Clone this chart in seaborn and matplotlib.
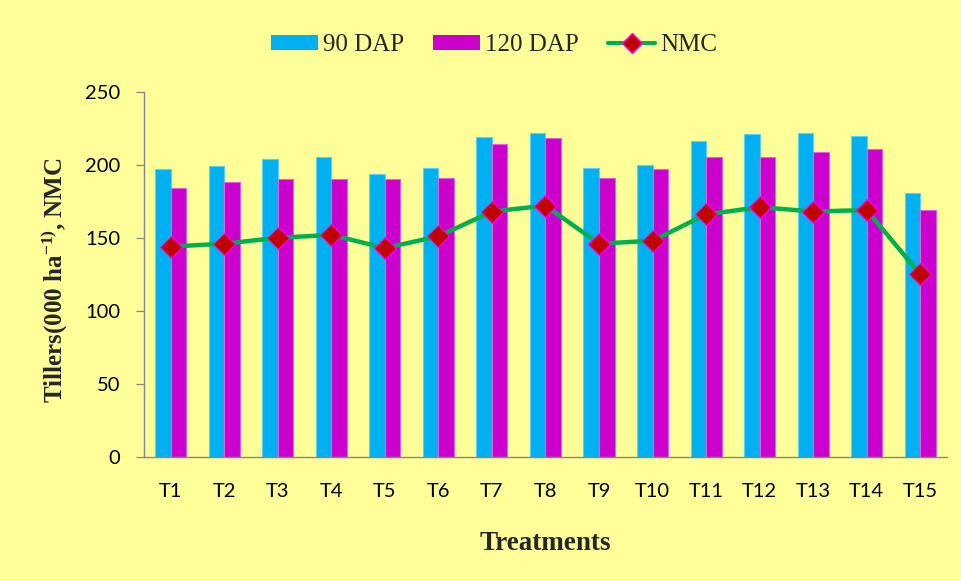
import matplotlib
matplotlib.use("Agg")
import matplotlib.pyplot as plt
from matplotlib.patches import Patch
from matplotlib.lines import Line2D
import seaborn as sns
import pandas as pd

# Treatments and measured values
treatments = [f"T{i}" for i in range(1, 16)]
dap90 = [197, 199, 204, 205, 194, 198, 219, 222, 198, 200, 216, 221, 222, 220, 181]
dap120 = [184, 188, 190, 190, 190, 191, 214, 218, 191, 197, 205, 205, 209, 211, 169]
nmc = [144, 146, 150, 152, 143, 151, 168, 172, 146, 148, 166, 171, 168, 169, 125]
yticks = [0, 50, 100, 150, 200, 250]

BG = "#FFFF99"
BLUE = "#00B0F0"
MAGENTA = "#CC00CC"
GREEN = "#00B050"
RED = "#C00000"
AXIS_GRAY = "#868686"
SERIF = ["Liberation Serif", "DejaVu Sans"]

sns.set_theme(style="white")
plt.rcParams["font.family"] = SERIF
plt.rcParams["mathtext.fontset"] = "custom"
plt.rcParams["mathtext.rm"] = "Liberation Serif:bold"
plt.rcParams["mathtext.default"] = "rm"

long = pd.DataFrame({
    "Treatment": treatments * 2,
    "Value": dap90 + dap120,
    "Stage": ["90 DAP"] * len(treatments) + ["120 DAP"] * len(treatments),
})

fig = plt.figure(figsize=(9.61, 5.81), dpi=100, facecolor=BG)
ax = fig.add_axes([0.1498, 0.2134, 0.8356, 0.6288])
ax.set_facecolor(BG)

sns.barplot(data=long, x="Treatment", y="Value", hue="Stage",
            palette={"90 DAP": BLUE, "120 DAP": MAGENTA},
            width=0.58, gap=0, dodge=True, errorbar=None,
            saturation=1, legend=False, ax=ax)

# light outline on each bar, as in spreadsheet-style charts
for p in ax.patches:
    fc = p.get_facecolor()
    if fc[0] < 0.05:
        p.set_edgecolor("#5FD0F5")
    else:
        p.set_edgecolor("#E060E0")
    p.set_linewidth(0.8)

sns.pointplot(x=treatments, y=nmc, color=GREEN, markers="D",
              linestyles="-", errorbar=None, ax=ax,
              markerfacecolor=RED, markeredgecolor="#FF00FF",
              markeredgewidth=0.8, markersize=11, linewidth=3.2)

n = len(treatments)
ax.set_xlim(-0.5, n - 0.5)
ax.set_ylim(0, 250)
ax.set_yticks(yticks)
ax.set_xticks(range(n))
ax.set_xticks([i - 0.5 for i in range(n + 1)], minor=True)

tick_font = dict(family=["Lato", "DejaVu Sans"], size=14.5, color="black")
ax.set_xticklabels(treatments, fontdict=tick_font)
ax.set_yticklabels([str(v) for v in yticks], fontdict=tick_font)
ax.tick_params(axis="x", which="major", length=0, pad=19)
ax.tick_params(axis="x", which="minor", length=6, width=0.9,
               color=AXIS_GRAY, direction="out")
ax.tick_params(axis="y", which="major", length=6, width=0.9,
               color=AXIS_GRAY, direction="out", pad=11, left=True)

for side in ("top", "right"):
    ax.spines[side].set_visible(False)
for side in ("left", "bottom"):
    ax.spines[side].set_color(AXIS_GRAY)
    ax.spines[side].set_linewidth(1.0)
ax.grid(False)

ax.set_xlabel("Treatments", fontsize=19.5, fontweight="bold", family=SERIF)
ax.xaxis.set_label_coords(0.5, -0.236)
ax.xaxis.label.set_va("center")
ax.set_ylabel(r"Tillers(000 ha$^{-1)}$, NMC", fontsize=18, fontweight="bold",
              family=SERIF)
ax.yaxis.set_label_coords(-0.112, 0.484)
ax.yaxis.label.set_va("center")

handles = [
    Patch(facecolor=BLUE, edgecolor="none", label="90 DAP"),
    Patch(facecolor=MAGENTA, edgecolor="none", label="120 DAP"),
    Line2D([0], [0], color=GREEN, linewidth=3, marker="D", markersize=10,
           markerfacecolor=RED, markeredgecolor="#FF00FF", label="NMC"),
]
fig.legend(handles=handles, loc="center", bbox_to_anchor=(0.514, 0.922),
           ncol=3, frameon=False, handlelength=1.9,
           handleheight=0.6, columnspacing=1.15, handletextpad=0.2,
           prop={"family": SERIF, "size": 18})

fig.savefig("out.png", dpi=100, facecolor=BG)
